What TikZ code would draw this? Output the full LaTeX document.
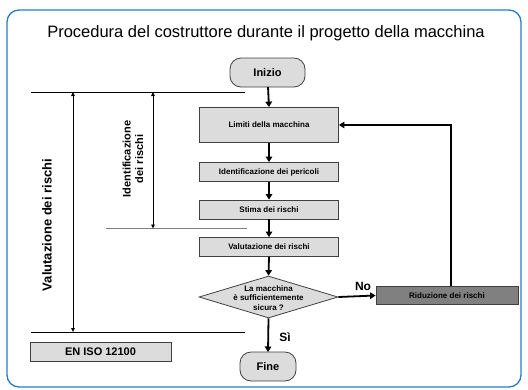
\documentclass[tikz,border=0pt]{standalone}
\usepackage{fontspec}
\setmainfont{Liberation Sans}
\usetikzlibrary{arrows.meta,shapes.geometric}
\definecolor{framec}{HTML}{2A7BC8}
\definecolor{boxfill}{HTML}{DCDCDC}
\definecolor{darkfill}{HTML}{808080}
\definecolor{edgec}{HTML}{404040}
\begin{document}
\begin{tikzpicture}[x=1pt,y=-1pt,
  stepbox/.style={draw=edgec,line width=0.8pt,fill=boxfill,font=\fontsize{8}{9}\selectfont\bfseries},
  term/.style={draw=edgec,line width=0.8pt,fill=boxfill,rounded corners=11pt},
  flow/.style={line width=1.8pt,-{Triangle[length=5.5pt,width=6.5pt]}},
  dim/.style={line width=0.9pt,{Triangle[length=4pt,width=3.5pt]}-{Triangle[length=4pt,width=3.5pt]}},
  rule/.style={line width=0.8pt}]
\useasboundingbox (0,0) rectangle (528,389);
\draw[framec,line width=1.3pt,rounded corners=12pt] (7,10) rectangle (521,387);
\node (title) at (266,33) {\fontsize{16.5}{18}\selectfont Procedura del costruttore durante il progetto della macchina};
% nodes
\path[term] (230,58) rectangle (305,87);
\node[font=\fontsize{11}{12}\selectfont\bfseries] (inizio) at (267.5,72.5) {Inizio};
\coordinate (inizioB) at (268,87);
\node[stepbox,minimum width=139pt,minimum height=35pt,inner sep=0pt] (lim) at (269,125) {Limiti della macchina};
\node[stepbox,minimum width=139pt,minimum height=19pt,inner sep=0pt] (ide) at (269,172) {Identificazione dei pericoli};
\node[stepbox,minimum width=139pt,minimum height=19pt,inner sep=0pt] (sti) at (269,209.5) {Stima dei rischi};
\node[stepbox,minimum width=139pt,minimum height=19pt,inner sep=0pt] (val) at (269,247) {Valutazione dei rischi};
\node[diamond,draw=edgec,line width=0.8pt,fill=boxfill,minimum width=139pt,minimum height=42pt,inner sep=0pt,aspect=3.3] (dec) at (268.5,297) {};
\node[font=\fontsize{8}{9.8}\selectfont\bfseries,align=center] at (268.5,298) {La macchina\\è sufficientemente\\sicura ?};
\node[stepbox,fill=darkfill,minimum width=142pt,minimum height=18pt,inner sep=0pt] (rid) at (447,295.5) {Riduzione dei rischi};
\path[term] (240,352) rectangle (296,381);
\node[font=\fontsize{11}{12}\selectfont\bfseries] (fine) at (268,366.5) {Fine};
\coordinate (fineT) at (268,352);
\node[stepbox,minimum width=141pt,minimum height=19pt,inner sep=0pt,font=\fontsize{11}{12}\selectfont\bfseries] (en) at (100.5,351.5) {EN ISO 12100};
% flow arrows
\draw[flow] (inizioB) -- (lim.north);
\draw[flow] (lim) -- (ide);
\draw[flow] (ide) -- (sti);
\draw[flow] (sti) -- (val);
\draw[flow] (val.south) -- (dec.north);
\draw[flow] (dec.south) -- (fineT);
\draw[flow] (dec.east) -- (rid.west);
\draw[flow] (rid.north -| 451,0) |- (lim.east);
\node[font=\fontsize{12}{13}\selectfont\bfseries] (no) at (363,286) {No};
\node[font=\fontsize{12}{13}\selectfont\bfseries] (si) at (285,337) {Sì};
% left rules and dimension arrows
\coordinate (t1) at (31,92); \coordinate (t2) at (245,92);
\coordinate (b1) at (31,332); \coordinate (b2) at (245,332);
\coordinate (g1) at (106,228.5); \coordinate (g2) at (247,228.5);
\draw[rule] (t1) -- (t2);
\draw[rule] (b1) -- (b2);
\draw[rule,gray] (g1) -- (g2);
\coordinate (va) at (73,92); \coordinate (vb) at (73,332);
\coordinate (ia) at (153,92); \coordinate (ib) at (153,228.5);
\draw[dim] (va) -- (vb);
\draw[dim] (ia) -- (ib);
\node[rotate=90,font=\fontsize{13}{14}\selectfont\bfseries] (vlab) at (47,225) {Valutazione dei rischi};
\node[rotate=90,align=center,font=\fontsize{11}{12.5}\selectfont\bfseries] (ilab) at (133,159) {Identificazione\\dei rischi};
\end{tikzpicture}
\end{document}
